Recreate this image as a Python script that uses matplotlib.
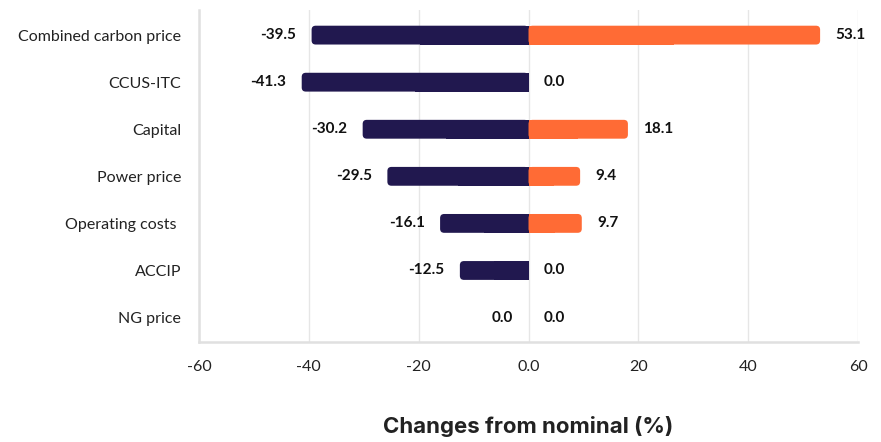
import matplotlib
matplotlib.use("Agg")
import matplotlib.pyplot as plt
from matplotlib.patches import FancyBboxPatch

categories = ["Combined carbon price", "CCUS-ITC", "Capital", "Power price",
              "Operating costs ", "ACCIP", "NG price"]
# bar lengths as drawn in the reference
low = [-39.5, -41.3, -30.2, -25.7, -16.1, -12.5, 0.0]
high = [53.1, 0.0, 18.1, 9.4, 9.7, 0.0, 0.0]
# printed value labels (power price label differs from its bar)
low_labels = ["-39.5", "-41.3", "-30.2", "-29.5", "-16.1", "-12.5", "0.0"]
high_labels = ["53.1", "0.0", "18.1", "9.4", "9.7", "0.0", "0.0"]
xticks = [-60, -40, -20, 0, 20, 40, 60]
xticklabels = ["-60", "-40", "-20", "0.0", "20", "40", "60"]

navy = "#21184f"
orange = "#ff6b35"

plt.rcParams["font.family"] = ["Lato", "DejaVu Sans"]

fig = plt.figure(figsize=(8.81, 4.42), dpi=100)
ax = fig.add_axes([0.2259, 0.2262, 0.748, 0.7508])

ypos = list(range(len(categories)))
bars_lo = ax.barh(ypos, low, height=0.4, color=navy)
bars_hi = ax.barh(ypos, high, height=0.4, color=orange)

# round the outer ends of the bars
for bars, col in ((bars_lo, navy), (bars_hi, orange)):
    for r in bars:
        x, y, w, h = r.get_x(), r.get_y(), r.get_width(), r.get_height()
        if abs(w) < 1e-9:
            continue
        r.set_visible(False)
        x0 = min(x, x + w)
        ax.add_patch(FancyBboxPatch((x0, y), abs(w), h,
                                    boxstyle="round,pad=0,rounding_size=0.75",
                                    mutation_aspect=0.115, fc=col, ec="none", zorder=2))
        # square inner end at zero
        ax.add_patch(plt.Rectangle((min(0, w / 2), y), abs(w) / 2, h,
                                   fc=col, ec="none", zorder=2))

for i in ypos:
    ax.annotate(low_labels[i], (low[i], i), xytext=(-11, 0), textcoords="offset points",
                ha="right", va="center", fontsize=11, fontweight="bold", color="#111111")
    ax.annotate(high_labels[i], (high[i], i), xytext=(11, 0), textcoords="offset points",
                ha="left", va="center", fontsize=11, fontweight="bold", color="#111111")

ax.set_xlim(-60, 60)
ax.set_ylim(6.52, -0.53)
ax.set_xticks(xticks)
ax.set_xticklabels(xticklabels)
ax.set_yticks(ypos)
ax.set_yticklabels(categories)
ax.tick_params(axis="both", length=0, labelsize=11.5, colors="#222222")
ax.tick_params(axis="x", pad=13)
ax.tick_params(axis="y", pad=13)

ax.grid(axis="x", color="#e6e6e6", linewidth=1, zorder=0)
ax.set_axisbelow(True)
for s in ("top", "right"):
    ax.spines[s].set_visible(False)
for s in ("left", "bottom"):
    ax.spines[s].set_color("#e0e0e0")
    ax.spines[s].set_linewidth(1.8)

ax.set_xlabel("Changes from nominal (%)", fontsize=16, fontweight="bold",
              family=["Inter", "DejaVu Sans"], color="#222222", labelpad=30)

fig.savefig("out.png", dpi=100)
